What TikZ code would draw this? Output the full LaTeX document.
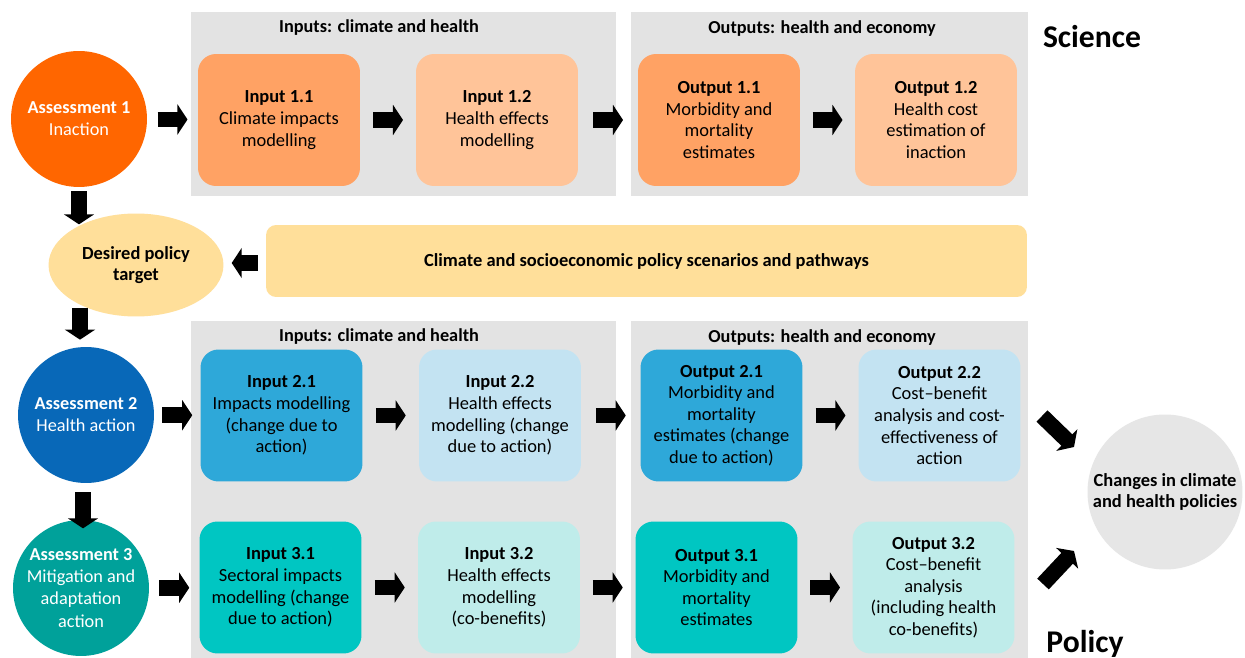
\documentclass[tikz,border=0pt]{standalone}
\usepackage{fontspec}
\setmainfont{Carlito}
\usetikzlibrary{calc,positioning,shapes.geometric,arrows.meta}
\definecolor{orangeA}{HTML}{FF6600}
\definecolor{orangeB}{HTML}{FFA264}
\definecolor{orangeC}{HTML}{FFC499}
\definecolor{yellowA}{HTML}{FFDF9A}
\definecolor{blueA}{HTML}{0868B8}
\definecolor{blueB}{HTML}{2EA8D9}
\definecolor{blueC}{HTML}{C3E3F2}
\definecolor{tealA}{HTML}{00A19A}
\definecolor{tealB}{HTML}{00C6C2}
\definecolor{tealC}{HTML}{BFECEA}
\definecolor{panelgray}{HTML}{E3E3E3}
\definecolor{policygray}{HTML}{E6E6E6}
\tikzstyle{stage}=[rounded corners=0.36cm,minimum width=3.24cm,minimum height=2.64cm,align=center,inner sep=2pt,font=\fontsize{10.5}{12.3}\selectfont]
\tikzstyle{assess}=[circle,minimum size=2.72cm,inner sep=0pt,align=center,text=white,font=\fontsize{10.4}{12.6}\selectfont]
\tikzstyle{blockarrow}=[line width=9pt,-{Triangle[length=5.7pt,width=17pt]}]
\tikzstyle{header}=[font=\bfseries\fontsize{10.4}{12}\selectfont]
\tikzstyle{bigword}=[font=\bfseries\fontsize{18}{20}\selectfont]
\newcommand{\stagebox}[4]{ % name, centre (px), fill, text
	\node[stage,fill=#3] (#1) at (#2) {#4};
}
\newcommand{\fatarrow}[2]{ % short block arrow half way between two nodes
	\draw[blockarrow] ($(#1.east)!0.5!(#2.west)+(-15,0)$) -- ++(30,0);
}

\begin{document}
\begin{tikzpicture}[x=0.02cm,y=-0.02cm]
	\fill[white] (0,0) rectangle (1245,658);
	\useasboundingbox (0,0) rectangle (1245,658);
	% grey panels
	\fill[panelgray] (191,12) rectangle (616,196);
	\fill[panelgray] (631,12) rectangle (1028,196);
	\fill[panelgray] (191,321) rectangle (616,658);
	\fill[panelgray] (631,321) rectangle (1028,658);
	\foreach \y in {28,337} {
		\node[header] (in\y) at (379,\y) {Inputs: climate and health};
		\node[header] (out\y) at (822,\y+1) {Outputs: health and economy};
	}
	\node[bigword] (science) at (1092,37) {Science};
	\node[bigword] (policy) at (1085,644) {Policy};
	% assessment 1
	\node[assess,fill=orangeA] (a1) at (79,119) {\textbf{Assessment 1}\\Inaction};
	\stagebox{i11}{279,120}{orangeB}{\textbf{Input 1.1}\\Climate impacts\\modelling}
	\stagebox{i12}{497,120}{orangeC}{\textbf{Input 1.2}\\Health effects\\modelling}
	\stagebox{o11}{719,120}{orangeB}{\textbf{Output 1.1}\\Morbidity and\\mortality\\estimates}
	\stagebox{o12}{936,120}{orangeC}{\textbf{Output 1.2}\\Health cost\\estimation of\\inaction}
	% policy target
	\node[ellipse,fill=yellowA,minimum width=3.5cm,minimum height=2.06cm,inner sep=0pt,align=center,font=\bfseries\fontsize{10.5}{12.3}\selectfont] (dpt) at (136,265) {Desired policy\\target};
	\node[fill=yellowA,rounded corners=0.2cm,minimum width=15.22cm,minimum height=1.44cm,font=\bfseries\fontsize{10.5}{12.3}\selectfont] (band) at (646.5,261) {Climate and socioeconomic policy scenarios and pathways};
	% assessment 2
	\node[assess,fill=blueA] (a2) at (86,415) {\textbf{Assessment 2}\\Health action};
	\stagebox{i21}{281.5,415.5}{blueB}{\textbf{Input 2.1}\\Impacts modelling\\(change due to\\action)}
	\stagebox{i22}{500,415.5}{blueC}{\textbf{Input 2.2}\\Health effects\\modelling (change\\due to action)}
	\stagebox{o21}{721.5,415.5}{blueB}{\textbf{Output 2.1}\\Morbidity and\\mortality\\estimates (change\\due to action)}
	\stagebox{o22}{939.5,415.5}{blueC}{\textbf{Output 2.2}\\Cost–benefit\\analysis and cost-\\effectiveness of\\action}
	% assessment 3
	\node[assess,fill=tealA] (a3) at (81,588) {\textbf{Assessment 3}\\Mitigation and\\adaptation\\action};
	\stagebox{i31}{280.5,587.5}{tealB}{\textbf{Input 3.1}\\Sectoral impacts\\modelling (change\\due to action)}
	\stagebox{i32}{499,587.5}{tealC}{\textbf{Input 3.2}\\Health effects\\modelling\\(co-benefits)}
	\stagebox{o31}{716.5,587.5}{tealB}{\textbf{Output 3.1}\\Morbidity and\\mortality\\estimates}
	\stagebox{o32}{933.5,587.5}{tealC}{\textbf{Output 3.2}\\Cost–benefit\\analysis\\(including health\\co-benefits)}
	\node[circle,fill=policygray,minimum size=3.1cm,inner sep=0pt,align=center,font=\bfseries\fontsize{10.5}{12.3}\selectfont] (chg) at (1165,492) {Changes in climate\\and health policies};
	% arrows
	\foreach \a/\b in {a1/i11,i11/i12,i12/o11,o11/o12,a2/i21,i21/i22,i22/o21,o21/o22,a3/i31,i31/i32,i32/o31,o31/o32} {
		\fatarrow{\a}{\b}
	}
	\draw[blockarrow] ($(a1.south)+(0,4)$) -- ($(a1.south)+(0,37)$);
	\draw[blockarrow] ($(a2.north)+(-6,-39)$) -- ($(a2.north)+(-6,-7)$);
	\draw[blockarrow] ($(a2.south)+(-3,9)$) -- ($(a2.south)+(-3,45)$);
	\draw[blockarrow] ($(band.west)+(-8,2)$) -- ($(band.west)+(-34,2)$);
	\coordinate (d1) at (1042,416);
	\coordinate (d2) at (1043,584);
	\draw[blockarrow] (d1) -- ($(d1)+(32,31)$);
	\draw[blockarrow] (d2) -- ($(d2)+(31,-33)$);
\end{tikzpicture}
\end{document}
